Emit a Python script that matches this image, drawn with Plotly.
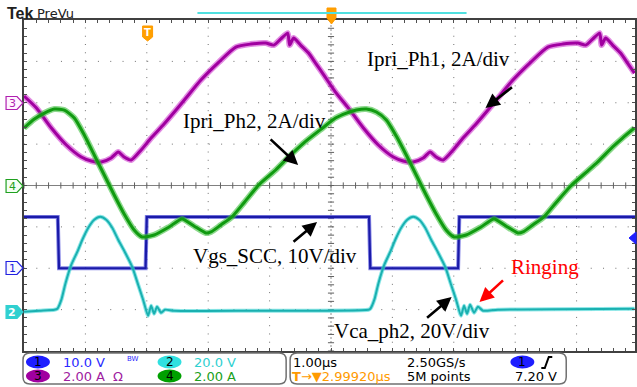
import plotly.graph_objects as go

# ---------------- data ----------------
# time axis in microseconds, 1 us/div
t_ch3 = [0.0, 0.203, 0.446, 0.690, 0.933, 1.096, 1.258, 1.420, 1.534, 1.631, 1.745, 1.907, 2.070, 2.281,
         2.476, 2.638, 2.881, 3.174, 3.450, 3.693, 3.937, 4.067, 4.180, 4.294, 4.327, 4.391, 4.505, 4.635,
         4.748, 4.862, 5.073, 5.284, 5.528, 5.771, 6.015, 6.177, 6.339, 6.502, 6.615, 6.713, 6.826, 6.989,
         7.151, 7.362, 7.557, 7.719, 7.963, 8.255, 8.531, 8.775, 9.018, 9.148, 9.261, 9.375, 9.408, 9.472,
         9.586, 9.716, 9.830, 9.943]
i_ch3 = [0.324, -0.256, -1.222, -2.043, -2.623, -2.816, -2.865, -2.671, -2.382, -2.623, -2.768, -2.285, -1.705, -1.029,
         -0.353, 0.227, 1.097, 1.966, 2.691, 2.836, 2.884, 2.787, 3.077, 3.367, 2.787, 3.126, 2.787, 2.401,
         1.918, 1.435, 0.517, -0.256, -1.222, -2.043, -2.623, -2.816, -2.865, -2.671, -2.382, -2.623, -2.768, -2.285,
         -1.705, -1.029, -0.353, 0.227, 1.097, 1.966, 2.691, 2.836, 2.884, 2.787, 3.077, 3.367, 2.787, 3.126,
         2.787, 2.401, 1.918, 1.435]

t_ch4 = [0.0, 0.170, 0.333, 0.495, 0.657, 0.820, 0.982, 1.144, 1.307, 1.469, 1.631, 1.794, 1.924, 2.119,
         2.362, 2.573, 2.768, 2.963, 3.044, 3.206, 3.385, 3.580, 3.823, 4.099, 4.310, 4.554, 4.862, 5.073,
         5.252, 5.414, 5.576, 5.739, 5.901, 6.063, 6.226, 6.388, 6.550, 6.713, 6.875, 7.005, 7.200, 7.443,
         7.654, 7.849, 8.044, 8.125, 8.287, 8.466, 8.661, 8.905, 9.180, 9.343, 9.586, 9.748, 9.943]
i_ch4 = [2.778, 3.213, 3.502, 3.696, 3.647, 3.261, 2.440, 1.473, 0.507, -0.459, -1.377, -2.150, -2.488, -2.391,
         -2.005, -1.618, -1.957, -2.295, -2.246, -1.908, -1.522, -0.845, 0.024, 0.749, 1.377, 2.053, 2.778, 3.261,
         3.502, 3.647, 3.696, 3.551, 3.164, 2.391, 1.473, 0.507, -0.459, -1.377, -2.150, -2.488, -2.391, -2.005,
         -1.618, -1.957, -2.295, -2.246, -1.908, -1.522, -0.845, -0.024, 0.700, 1.135, 1.860, 2.295, 2.778]

t_ch1 = [0.0, 0.550, 0.570, 1.980, 2.000, 5.620, 5.640, 7.070, 7.090, 9.951]
v_ch1 = [12.4, 12.4, 0.0, 0.0, 12.4, 12.4, 0.0, 0.0, 12.4, 12.4]

t_ch2 = [0.0, 0.252, 0.495, 0.544, 0.609, 0.674, 0.771, 0.869, 0.950, 1.047, 1.144, 1.242, 1.339, 1.437,
         1.534, 1.648, 1.761, 1.859, 1.940, 2.021, 2.070, 2.119, 2.167, 2.232, 2.297, 2.443, 3.661, 5.609,
         5.641, 5.706, 5.771, 5.869, 5.966, 6.047, 6.144, 6.242, 6.339, 6.437, 6.534, 6.631, 6.745, 6.859,
         6.956, 7.037, 7.118, 7.167, 7.216, 7.265, 7.330, 7.394, 7.476, 7.719, 9.943]
v_ch2 = [0.0, 0.48, 0.97, 1.45, 5.80, 13.53, 22.71, 28.99, 34.78, 40.58, 44.44, 45.89, 44.44, 40.58,
         34.78, 28.50, 21.74, 13.04, 5.80, -1.93, 2.90, -0.97, 2.42, -0.48, 0.97, 0.48, 0.48, 0.97,
         1.45, 5.80, 13.53, 22.71, 28.99, 34.78, 40.58, 44.44, 45.89, 44.44, 40.58, 34.78, 28.50, 21.74,
         13.04, 5.80, -1.93, 2.90, -0.97, 3.38, -0.48, 2.42, 0.48, 0.97, 1.45]

# channel settings: (scale per div, position offset in div)
CH1_SCALE, CH1_POS = 10.0, -2.0
CH2_SCALE, CH2_POS = 20.0, -3.05
CH3_SCALE, CH3_POS = 2.0, 2.0
CH4_SCALE, CH4_POS = 2.0, 0.0

labels = ["Ipri_Ph1, 2A/div", "Ipri_Ph2, 2A/div", "Vgs_SCC, 10V/div", "Vca_ph2, 20V/div", "Ringing"]

# ---------------- geometry ----------------
W, H = 637, 387
L, R, T, B = 24, 0, 20, 36
PW, PH = W - L - R, H - T - B
DIVX = 61.6
XMAX = PW / DIVX


def px(x):
    return (x - L) / PW


def py(y):
    return (H - B - y) / PH


def to_div(vals, scale, pos):
    return [v / scale + pos for v in vals]


fig = go.Figure()


def add_wave(t, v, core, halo, wcore, whalo, shape="spline"):
    fig.add_trace(go.Scatter(x=t, y=v, mode="lines", line=dict(color=halo, width=whalo, shape=shape, smoothing=0.6),
                             opacity=0.6, hoverinfo="skip", showlegend=False))
    fig.add_trace(go.Scatter(x=t, y=v, mode="lines", line=dict(color=core, width=wcore, shape=shape, smoothing=0.6),
                             hoverinfo="skip", showlegend=False))


# graticule ticks on centre lines
tx, ty = [], []
k = 0
while k * 0.2 <= XMAX + 1e-9:
    x = k * 0.2
    tx += [x, x, None]
    ty += [-0.075, 0.075, None]
    k += 1
for k in range(-20, 21):
    y = k * 0.2
    tx += [5 - 0.05, 5 + 0.05, None]
    ty += [y, y, None]
fig.add_trace(go.Scatter(x=tx, y=ty, mode="lines", line=dict(color="#606060", width=1),
                         hoverinfo="skip", showlegend=False))

add_wave(t_ch1, to_div(v_ch1, CH1_SCALE, CH1_POS), "#1a1aa8", "#3c3cd8", 2.2, 4, shape="linear")
add_wave(t_ch3, to_div(i_ch3, CH3_SCALE, CH3_POS), "#a000a0", "#d040d0", 3.0, 6.0)
add_wave(t_ch4, to_div(i_ch4, CH4_SCALE, CH4_POS), "#109a10", "#40c040", 3.0, 6.0)
add_wave(t_ch2, to_div(v_ch2, CH2_SCALE, CH2_POS), "#1ab0b0", "#40d8d8", 2.0, 4.0)

shapes = []
# dotted grid
for i in range(1, 10):
    if i == 5:
        continue
    shapes.append(dict(type="line", xref="x", yref="y", x0=i, x1=i, y0=-4, y1=4, layer="below",
                       line=dict(color="#707070", width=1, dash="1px,7.27px")))
for j in range(-3, 4):
    if j == 0:
        continue
    shapes.append(dict(type="line", xref="x", yref="y", x0=0, x1=XMAX, y0=j, y1=j, layer="below",
                       line=dict(color="#707070", width=1, dash="1px,11.32px")))
shapes.append(dict(type="line", xref="x", yref="y", x0=0, x1=XMAX, y0=0, y1=0, layer="below",
                   line=dict(color="#808080", width=1)))
shapes.append(dict(type="line", xref="x", yref="y", x0=5, x1=5, y0=-4, y1=4, layer="below",
                   line=dict(color="#909090", width=1, dash="2px,2px")))


def ppath(points, close=True):
    s = "M " + " L ".join(f"{px(a):.5f},{py(b):.5f}" for a, b in points)
    return s + (" Z" if close else "")


def rrect(x0, y0, x1, y1, r):
    p = [
        f"M {px(x0 + r):.5f},{py(y0):.5f}",
        f"L {px(x1 - r):.5f},{py(y0):.5f}",
        f"Q {px(x1):.5f},{py(y0):.5f} {px(x1):.5f},{py(y0 + r):.5f}",
        f"L {px(x1):.5f},{py(y1 - r):.5f}",
        f"Q {px(x1):.5f},{py(y1):.5f} {px(x1 - r):.5f},{py(y1):.5f}",
        f"L {px(x0 + r):.5f},{py(y1):.5f}",
        f"Q {px(x0):.5f},{py(y1):.5f} {px(x0):.5f},{py(y1 - r):.5f}",
        f"L {px(x0):.5f},{py(y0 + r):.5f}",
        f"Q {px(x0):.5f},{py(y0):.5f} {px(x0 + r):.5f},{py(y0):.5f} Z",
    ]
    return " ".join(p)


# info panels
shapes.append(dict(type="path", xref="paper", yref="paper", path=rrect(23, 353, 287, 384, 7),
                   line=dict(color="#707070", width=1.5), fillcolor="white"))
shapes.append(dict(type="path", xref="paper", yref="paper", path=rrect(291, 353, 568, 384, 7),
                   line=dict(color="#707070", width=1.5), fillcolor="white"))


def ellipse(cx, cy, col, w=24, h=13):
    shapes.append(dict(type="circle", xref="paper", yref="paper", x0=px(cx - w / 2), x1=px(cx + w / 2),
                       y0=py(cy + h / 2), y1=py(cy - h / 2), fillcolor=col, line=dict(width=0)))


ellipse(38, 362, "#1e1eff")
ellipse(170, 362, "#30e0e0")
ellipse(38, 376, "#a000a0")
ellipse(170, 376, "#00a000")
ellipse(524, 362, "#1e1eff")

# rising edge symbol
shapes.append(dict(type="path", xref="paper", yref="paper",
                   path=ppath([(543, 368), (546.5, 368), (550.5, 357), (554, 357)], close=False),
                   line=dict(color="black", width=2)))


# channel markers on the left
def ch_marker(y, stroke, fill):
    shapes.append(dict(type="path", xref="paper", yref="paper",
                       path=ppath([(6, y - 6.5), (17, y - 6.5), (23, y), (17, y + 6.5), (6, y + 6.5)]),
                       line=dict(color=stroke, width=1.2), fillcolor=fill))


ch_marker(103, "#b020b0", "#fff4ff")
ch_marker(186, "#20a020", "#f4fff4")
ch_marker(268, "#2020e0", "#f8f8ff")
ch_marker(312, "#30d0d0", "#30d0d0")

# trigger position marker (top) and T marker
shapes.append(dict(type="path", xref="paper", yref="paper",
                   path=ppath([(328, 8), (337, 8), (337, 18), (332.5, 24), (328, 18)]),
                   line=dict(color="#ff9a00", width=1), fillcolor="#ffa000"))
shapes.append(dict(type="path", xref="paper", yref="paper",
                   path=ppath([(143, 26), (153, 26), (153, 37), (148, 41), (143, 37)]),
                   line=dict(color="#ff9a00", width=1), fillcolor="#ffa000"))
# trigger level marker (right)
shapes.append(dict(type="path", xref="paper", yref="paper",
                   path=ppath([(638, 232), (631, 238), (638, 244)]),
                   line=dict(color="#2020ff", width=1), fillcolor="#2020ff"))
# record view bar at top
shapes.append(dict(type="line", xref="paper", yref="paper", x0=px(198), x1=px(468), y0=py(13), y1=py(13),
                   line=dict(color="#50e0e0", width=2)))

ann = []


def txt(x, y, s, size, color, family="DejaVu Sans", xanchor="left", bold=False):
    if bold:
        s = "<b>" + s + "</b>"
    ann.append(dict(xref="paper", yref="paper", x=px(x), y=py(y), text=s, showarrow=False,
                    xanchor=xanchor, yanchor="middle", font=dict(family=family, size=size, color=color)))


def arrow(hx, hy, tx_, ty_, color="black"):
    ann.append(dict(xref="paper", yref="paper", x=px(hx), y=py(hy), ax=tx_ - hx, ay=ty_ - hy, text=" ",
                    showarrow=True, arrowhead=2, arrowsize=1.1, arrowwidth=2.6, arrowcolor=color, standoff=0,
                    font=dict(size=1)))


serif = "Liberation Serif"
txt(366, 59, labels[0], 21, "black", serif)
txt(182, 121, labels[1], 21, "black", serif)
txt(192, 256, labels[2], 21, "black", serif)
txt(333, 331, labels[3], 21, "black", serif)
txt(511, 267, labels[4], 21, "#ff0000", serif)

arrow(487, 108, 515, 86)
arrow(299, 165, 270, 138)
arrow(318, 222, 293, 243)
arrow(453, 297, 427, 319)
arrow(481, 302, 506, 279, "#ff0000")

# header
txt(5, 13, "Tek", 16, "#202020", "Liberation Sans", bold=True)
txt(35, 13, "PreVu", 13, "#202020", "DejaVu Sans")

# marker digits
txt(12, 103, "3", 11, "#b020b0", xanchor="center")
txt(12, 186, "4", 11, "#20a020", xanchor="center")
txt(12, 268, "1", 11, "#2020e0", xanchor="center")
txt(12, 312, "2", 11, "white", xanchor="center", bold=True)
txt(148, 32, "T", 10, "white", xanchor="center", bold=True)

# info panel texts
txt(38, 362, "1", 12, "black", xanchor="center")
txt(170, 362, "2", 12, "black", xanchor="center")
txt(38, 376, "3", 12, "black", xanchor="center")
txt(170, 376, "4", 12, "black", xanchor="center")
txt(524, 362, "1", 12, "black", xanchor="center")
txt(61, 362, "10.0 V", 13, "#2a2aff")
txt(125, 359, "BW", 7, "#2a2aff")
txt(193, 362, "20.0 V", 13, "#30d0d0")
txt(61, 376, "2.00 A", 13, "#a020a0")
txt(111, 376, "Ω", 13, "#a020a0")
txt(193, 376, "2.00 A", 13, "#20a020")
txt(292, 362, "1.00µs", 13, "black")
txt(406, 362, "2.50GS/s", 13, "black")
txt(406, 376, "5M points", 13, "black")
txt(561, 376, "7.20 V", 13, "black", xanchor="right")
txt(291, 376, "<b>T</b>→▼2.99920µs", 13, "#ff9a00")

axis_common = dict(showgrid=False, zeroline=False, showline=True, linecolor="#404040", linewidth=1.5,
                   mirror="ticks", ticks="inside", ticklen=3, tickcolor="#505050", tickwidth=1,
                   showticklabels=False, fixedrange=True)

fig.update_layout(
    width=W, height=H, margin=dict(l=L, r=R, t=T, b=B, pad=0),
    paper_bgcolor="white", plot_bgcolor="white",
    xaxis=dict(range=[0, XMAX], tick0=0, dtick=0.2, **axis_common),
    yaxis=dict(range=[-4, 4], tick0=0, dtick=0.2, **axis_common),
    shapes=shapes, annotations=ann, showlegend=False,
)

fig.write_html("out.html")
